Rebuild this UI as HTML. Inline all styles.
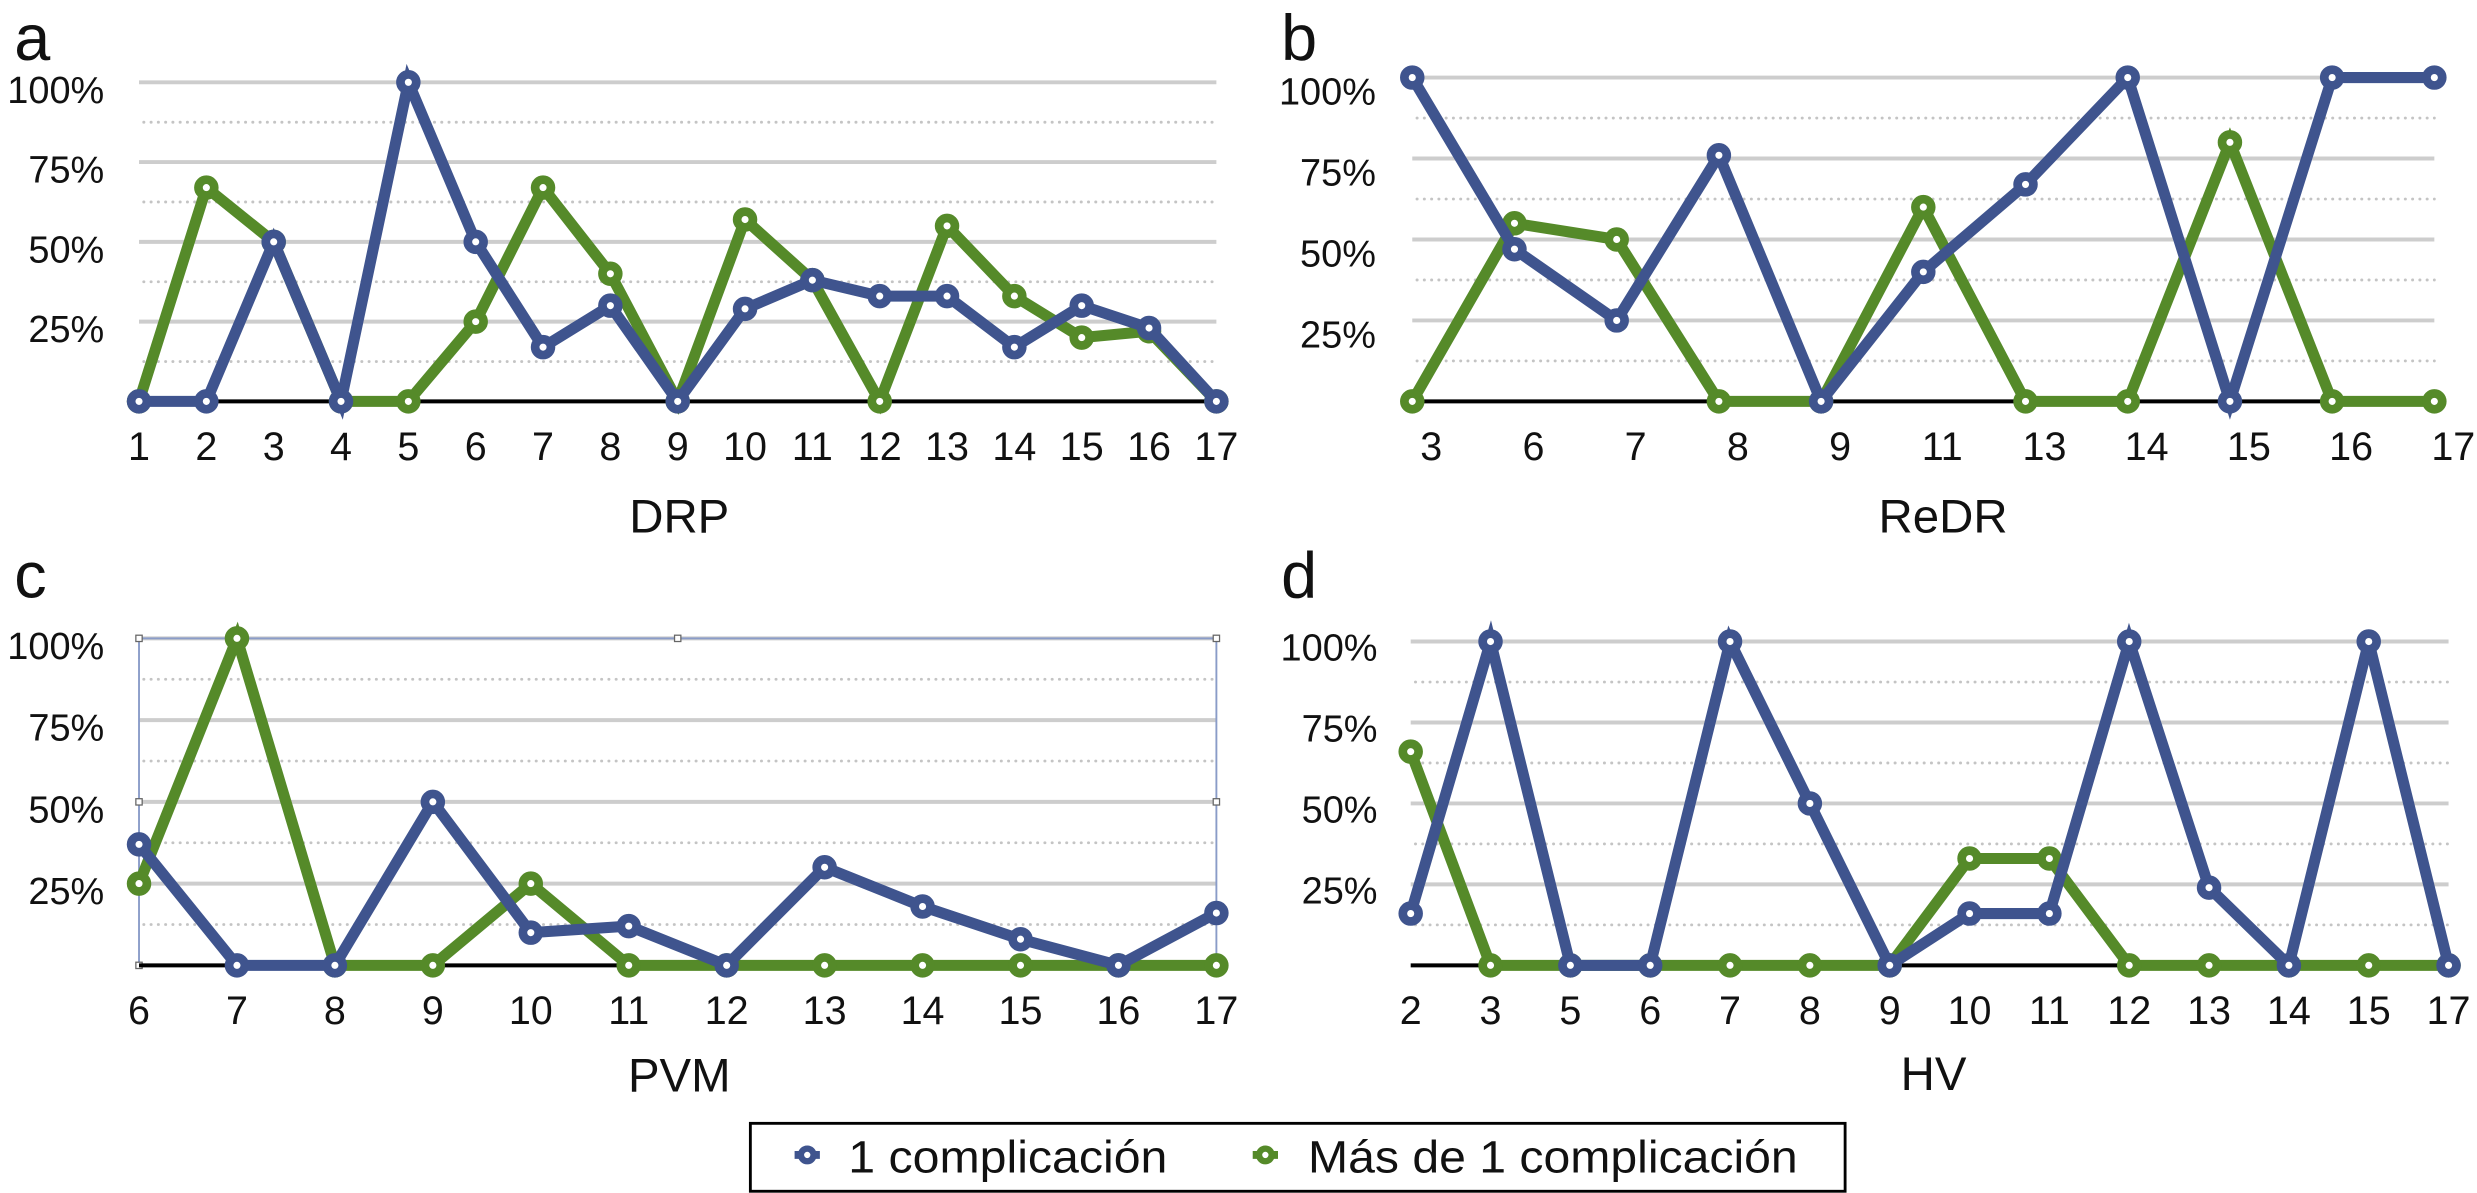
<!DOCTYPE html>
<html><head><meta charset="utf-8"><style>
html,body{margin:0;padding:0;background:#fff}
svg{display:block}
text{font-family:"Liberation Sans",Arial,sans-serif;fill:#111}
</style></head><body>
<svg id="chart" width="2477" height="1193" viewBox="0 0 1568 755" xmlns="http://www.w3.org/2000/svg">
<g id="root"></g>
</svg>
<script>
// Panel a - DRP
const catsA = ["1","2","3","4","5","6","7","8","9","10","11","12","13","14","15","16","17"];
const blueA = [0,0,50,0,100,50,17,30,0,29,38,33,33,17,30,23,0];
const greenA = [0,67,50,0,0,25,67,40,0,57,38,0,55,33,20,22,0];
// Panel b - ReDR
const catsB = ["3","6","7","8","9","11","13","14","15","16","17"];
const blueB = [100,47,25,76,0,40,67,100,0,100,100];
const greenB = [0,55,50,0,0,60,0,0,80,0,0];
// Panel c - PVM
const catsC = ["6","7","8","9","10","11","12","13","14","15","16","17"];
const blueC = [37,0,0,50,10,12,0,30,18,8,0,16];
const greenC = [25,100,0,0,25,0,0,0,0,0,0,0];
// Panel d - HV
const catsD = ["2","3","5","6","7","8","9","10","11","12","13","14","15","17"];
const blueD = [16,100,0,0,100,50,0,16,16,100,24,0,100,0];
const greenD = [66,0,0,0,0,0,0,33,33,0,0,0,0,0];
const yTicks = [25,50,75,100];
const yTickLabels = ["25%","50%","75%","100%"];

const NS="http://www.w3.org/2000/svg";
const root=document.getElementById('root');
const BLUE="#3f548e", GREEN="#558a29";
function mk(tag,attrs,parent){const e=document.createElementNS(NS,tag);for(const k in attrs)e.setAttribute(k,attrs[k]);(parent||root).appendChild(e);return e;}

function panel(o){
  const {key,letter,title,cats,blue,green,x0,x1,yTop,yBot,labelX,labelDy,xLabOff,lx,ly,tx,ty,box}=o;
  const g=mk('g',{});
  
  
  const xs=i=>x0+(x1-x0)*i/(cats.length-1);
  const ys=v=>yBot-(yBot-yTop)*v/100;
  const gl=x0, gr=x1;
  for(let v=12.5;v<100;v+=25){
    const d=mk('line',{x1:gl+3,x2:gr,y1:ys(v),y2:ys(v),stroke:'#c4c4c4','stroke-width':1.8,'stroke-dasharray':'0.1 4.5','stroke-linecap':'round'},g);
    
    
  }
  yTicks.forEach((v,i)=>{
    const l=mk('line',{x1:gl,x2:gr,y1:ys(v),y2:ys(v),stroke:'#cdcdcd','stroke-width':2.5},g);
    
    
    const t=mk('text',{x:labelX,y:ys(v)+labelDy,'text-anchor':'end','font-size':24},g);
    t.textContent=yTickLabels[i];
    
    
  });
  if(box){
    const r=mk('rect',{x:x0,y:yTop,width:x1-x0,height:yBot-yTop,fill:'none',stroke:'#8a9cc8','stroke-width':1.2},g);
    
    
    [[x0,yTop],[(x0+x1)/2,yTop],[x1,yTop],[x0,(yTop+yBot)/2],[x1,(yTop+yBot)/2],[x0,yBot],[(x0+x1)/2,yBot],[x1,yBot]].forEach(p=>{
      const h=mk('rect',{x:p[0]-2,y:p[1]-2,width:4,height:4,fill:'#fff',stroke:'#666','stroke-width':0.8},g);
      
      
    });
  }
  const ax=mk('line',{x1:gl,x2:gr,y1:yBot,y2:yBot,stroke:'#000','stroke-width':2.5},g);
  
  
  cats.forEach((c,i)=>{
    const t=mk('text',{x:xs(i)+xLabOff,y:yBot+37,'text-anchor':'middle','font-size':25},g);
    t.textContent=c;
    
    
  });
  [[green,GREEN,'green'],[blue,BLUE,'blue']].forEach(([vals,col,nm])=>{
    const pl=mk('polyline',{points:vals.map((v,i)=>xs(i)+','+ys(v)).join(' '),fill:'none',stroke:col,'stroke-width':7,'stroke-linejoin':'miter'},g);
    
    
    vals.forEach((v,i)=>{
      const c=mk('circle',{cx:xs(i),cy:ys(v),r:5,fill:'#fff',stroke:col,'stroke-width':5.5},g);
      
      
    });
  });
  const L=mk('text',{x:lx,y:ly,'font-size':41},g);
  L.textContent=letter;
  
  
  const T=mk('text',{x:tx,y:ty,'text-anchor':'middle','font-size':30},g);
  T.textContent=title;
  
  
}
panel({key:'a',letter:'a',title:'DRP',cats:catsA,blue:blueA,green:greenA,x0:88,x1:770,yTop:52,yBot:254,labelX:66,labelDy:13,xLabOff:0,lx:9,ly:38,tx:430,ty:337});
panel({key:'b',letter:'b',title:'ReDR',cats:catsB,blue:blueB,green:greenB,x0:894,x1:1541,yTop:49,yBot:254,labelX:871,labelDy:17,xLabOff:12,lx:811,ly:38,tx:1230,ty:337});
panel({key:'c',letter:'c',title:'PVM',cats:catsC,blue:blueC,green:greenC,x0:88,x1:770,yTop:404,yBot:611,labelX:66,labelDy:13,xLabOff:0,lx:9,ly:378,tx:430,ty:691,box:true});
panel({key:'d',letter:'d',title:'HV',cats:catsD,blue:blueD,green:greenD,x0:893,x1:1550,yTop:406,yBot:611,labelX:872,labelDy:12,xLabOff:0,lx:811,ly:378,tx:1224,ty:690});

// legend
const lg=mk('g',{});


const lb=mk('rect',{x:475,y:711,width:693,height:43,fill:'#fff',stroke:'#000','stroke-width':1.8},lg);


[[BLUE,'1 complicación',511,537,202],[GREEN,'Más de 1 complicación',801,828,310]].forEach(([col,lab,x,tx,tl],k)=>{
  const e=mk('g',{},lg);
  
  
  mk('line',{x1:x-8,x2:x+8,y1:731,y2:731,stroke:col,'stroke-width':5},e);
  mk('circle',{cx:x,cy:731,r:4,fill:'#fff',stroke:col,'stroke-width':4},e);
  const t=mk('text',{x:tx,y:742,'font-size':29,textLength:tl,lengthAdjust:'spacingAndGlyphs'},e);
  t.textContent=lab;
});
</script>
</body></html>
